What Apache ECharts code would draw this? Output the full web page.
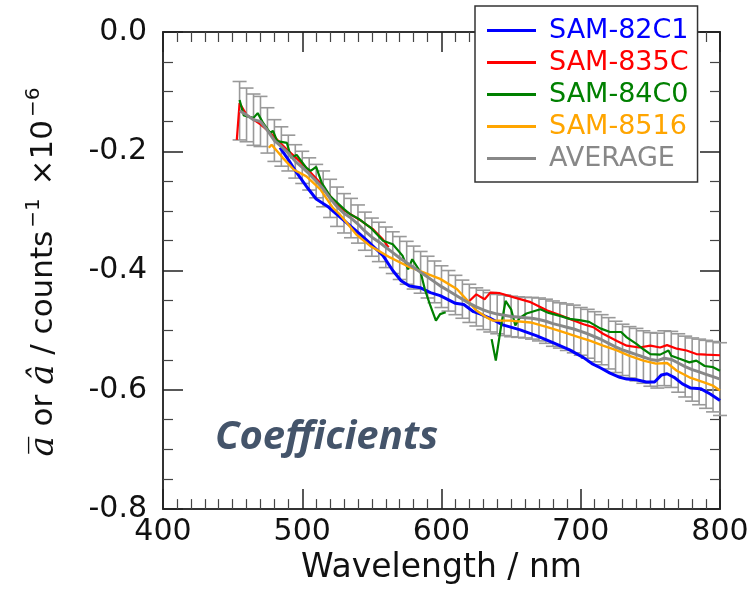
<!DOCTYPE html>
<html>
<head>
<meta charset="UTF-8">
<title>Coefficients</title>
<script src="https://cdn.jsdelivr.net/npm/echarts@6.0.0/dist/echarts.min.js"></script>
</head>
<body style="margin:0">
<div id="main" style="width:754px;height:590px;"></div>
<script type="text/javascript">
// wavelength (nm) / coefficient pairs
var blue = [[484,-0.194],[490,-0.214],[496,-0.236],[504,-0.262],[510,-0.280],[518,-0.292],[525,-0.306],[532,-0.320],[541,-0.338],[549,-0.355],[558,-0.375],[565,-0.400],[571,-0.417],[577,-0.426],[585,-0.429],[592,-0.437],[599,-0.442],[604,-0.448],[610,-0.455],[616,-0.457],[623,-0.469],[628,-0.473],[635,-0.480],[644,-0.491],[656,-0.499],[668,-0.509],[680,-0.521],[692,-0.533],[702,-0.546],[708,-0.556],[714,-0.563],[721,-0.572],[728,-0.579],[733,-0.582],[740,-0.583],[747,-0.587],[753,-0.587],[758,-0.575],[762,-0.573],[767,-0.579],[773,-0.590],[779,-0.597],[786,-0.598],[793,-0.607],[800,-0.618]];
var red = [[453,-0.181],[455,-0.119],[460,-0.139],[470,-0.155],[477,-0.169],[489,-0.197],[496,-0.212],[503,-0.228],[513,-0.253],[519,-0.272],[525,-0.290],[530,-0.299],[537,-0.309],[542,-0.316],[546,-0.323],[551,-0.331],[558,-0.348],[562,-0.361],[590,null],[620,-0.451],[625,-0.440],[631,-0.448],[635,-0.437],[642,-0.438],[652,-0.445],[664,-0.453],[676,-0.467],[683,-0.473],[692,-0.481],[702,-0.490],[709,-0.495],[716,-0.506],[726,-0.518],[733,-0.526],[742,-0.529],[750,-0.526],[757,-0.529],[762,-0.525],[769,-0.531],[776,-0.534],[783,-0.540],[790,-0.541],[800,-0.542]];
var green = [[455,-0.114],[458,-0.140],[465,-0.144],[468,-0.136],[472,-0.153],[477,-0.169],[479,-0.166],[482,-0.183],[489,-0.186],[492,-0.211],[496,-0.206],[503,-0.228],[506,-0.233],[510,-0.226],[514,-0.253],[520,-0.275],[530,-0.297],[534,-0.305],[541,-0.314],[549,-0.328],[558,-0.350],[565,-0.356],[572,-0.375],[576,-0.398],[579,-0.381],[585,-0.403],[588,-0.431],[592,-0.459],[596,-0.484],[599,-0.473],[603,-0.470],[620,null],[636,-0.515],[639,-0.551],[643,-0.490],[646,-0.451],[650,-0.465],[653,-0.492],[656,-0.480],[661,-0.472],[671,-0.465],[677,-0.471],[685,-0.476],[692,-0.481],[699,-0.483],[706,-0.486],[714,-0.497],[721,-0.503],[729,-0.503],[733,-0.512],[740,-0.523],[745,-0.532],[750,-0.540],[757,-0.541],[763,-0.534],[765,-0.543],[771,-0.548],[778,-0.554],[783,-0.551],[789,-0.560],[795,-0.562],[800,-0.568]];
var orange = [[476,-0.194],[478,-0.189],[486,-0.211],[494,-0.231],[503,-0.242],[513,-0.264],[522,-0.295],[527,-0.306],[532,-0.320],[539,-0.340],[549,-0.359],[563,-0.378],[575,-0.392],[587,-0.403],[599,-0.414],[611,-0.431],[619,-0.451],[625,-0.467],[632,-0.478],[637,-0.484],[649,-0.484],[664,-0.487],[676,-0.495],[687,-0.503],[699,-0.512],[707,-0.518],[716,-0.526],[726,-0.534],[735,-0.543],[745,-0.551],[754,-0.556],[762,-0.555],[769,-0.568],[778,-0.579],[788,-0.587],[795,-0.593],[800,-0.601]];

// average with error bar half widths
var avgWl = [455,460,465,470,475,480,485,490,495,500,505,510,515,520,525,530,535,540,545,550,555,560,565,570,575,580,585,590,595,600,605,610,615,620,625,630,635,640,645,650,655,660,665,670,675,680,685,690,695,700,705,710,715,720,725,730,735,740,745,750,755,760,765,770,775,780,785,790,795,800];
var avgVal = [-0.132,-0.139,-0.147,-0.150,-0.165,-0.182,-0.192,-0.203,-0.217,-0.227,-0.238,-0.250,-0.263,-0.279,-0.293,-0.304,-0.312,-0.322,-0.334,-0.344,-0.352,-0.361,-0.370,-0.379,-0.387,-0.395,-0.403,-0.411,-0.419,-0.427,-0.434,-0.441,-0.448,-0.455,-0.461,-0.466,-0.470,-0.473,-0.475,-0.477,-0.478,-0.479,-0.480,-0.482,-0.485,-0.489,-0.492,-0.495,-0.498,-0.502,-0.506,-0.511,-0.516,-0.522,-0.528,-0.533,-0.537,-0.541,-0.545,-0.549,-0.551,-0.547,-0.549,-0.555,-0.561,-0.566,-0.570,-0.574,-0.578,-0.582];
var avgErr = [0.049,0.045,0.043,0.042,0.038,0.035,0.033,0.030,0.028,0.027,0.027,0.028,0.030,0.032,0.033,0.033,0.033,0.032,0.032,0.032,0.033,0.034,0.035,0.036,0.036,0.036,0.035,0.035,0.035,0.035,0.034,0.033,0.032,0.032,0.032,0.033,0.033,0.033,0.034,0.034,0.034,0.034,0.035,0.036,0.037,0.038,0.038,0.039,0.040,0.040,0.041,0.042,0.042,0.043,0.043,0.043,0.043,0.044,0.044,0.045,0.046,0.046,0.047,0.049,0.051,0.053,0.055,0.057,0.059,0.061];

var names = ['SAM-82C1', 'SAM-835C', 'SAM-84C0', 'SAM-8516', 'AVERAGE'];
var colors = ['#0000ff', '#ff0000', '#008000', '#ffa500', '#888888'];
var xTicks = [400, 800, 100];
var yTicks = [-0.8, 0, 0.2];

var myChart = echarts.init(document.getElementById('main'));

var avgLine = avgWl.map(function (w, i) { return [w, avgVal[i]]; });
var errData = avgWl.map(function (w, i) { return [w, avgVal[i], avgErr[i]]; });

function lineSeries(idx, data, width) {
    return {
        name: names[idx],
        type: 'line',
        data: data,
        showSymbol: false,
        symbol: 'none',
        connectNulls: false,
        lineStyle: { color: colors[idx], width: width },
        itemStyle: { color: colors[idx] },
        z: 3 + idx
    };
}

// boxed frame: every axis ticks inward, never sits on zero
function frameAxis(extra, split) {
    return Object.assign({
        axisLine: { onZero: false, lineStyle: { color: '#333', width: 2 } },
        axisTick: { inside: true, length: 20, lineStyle: { color: '#222', width: 1.5 } },
        minorTick: { show: true, splitNumber: split, length: 10, lineStyle: { color: '#444', width: 1.2 } },
        splitLine: { show: false }
    }, extra);
}

var option = {
    animation: false,
    backgroundColor: '#fff',
    grid: { left: 163, right: 34, top: 32, bottom: 79 },
    legend: {
        orient: 'vertical',
        left: 475,
        top: 6,
        padding: [9, 9, 8, 12],
        itemGap: 1,
        itemWidth: 49,
        itemHeight: 3,
        icon: 'rect',
        backgroundColor: '#fff',
        borderColor: '#333',
        borderWidth: 1.5,
        borderRadius: 0,
        selectedMode: false,
        textStyle: { fontFamily: 'DejaVu Sans', fontSize: 27, lineHeight: 31, padding: [0, 0, 0, 8] },
        data: names.map(function (n, i) {
            return { name: n, itemStyle: { color: colors[i] }, textStyle: { color: colors[i] } };
        })
    },
    xAxis: [
        frameAxis({
            type: 'value', min: xTicks[0], max: xTicks[1], interval: xTicks[2],
            axisLabel: { fontFamily: 'DejaVu Sans', fontSize: 30, color: '#111', margin: 8 },
            name: 'Wavelength / nm',
            nameLocation: 'middle',
            nameGap: 38,
            nameTextStyle: { fontFamily: 'DejaVu Sans', fontSize: 33, color: '#111' }
        }, 10),
        frameAxis({
            type: 'value', position: 'top', min: xTicks[0], max: xTicks[1], interval: xTicks[2],
            axisLabel: { show: false }
        }, 10)
    ],
    yAxis: [
        frameAxis({
            type: 'value', min: yTicks[0], max: yTicks[1], interval: yTicks[2],
            axisLabel: {
                fontFamily: 'DejaVu Sans', fontSize: 30, color: '#111', margin: 16,
                formatter: function (v) { return v.toFixed(1); }
            },
            name: '{it|a\u0305}{m| or }{it|\u00e2}{m| / counts}{sup|\u22121}{m| \u00d710}{sup|\u22126}',
            nameLocation: 'middle',
            nameRotate: 90,
            nameGap: 99,
            nameTextStyle: {
                fontFamily: 'DejaVu Sans', fontSize: 31, color: '#111',
                rich: {
                    m: { fontFamily: 'DejaVu Sans', fontSize: 31, color: '#111', lineHeight: 40 },
                    it: { fontFamily: 'DejaVu Serif', fontStyle: 'italic', fontSize: 34, color: '#111', lineHeight: 40 },
                    sup: { fontFamily: 'DejaVu Sans', fontSize: 20, color: '#111', lineHeight: 40, verticalAlign: 'top', padding: [0, 3, 0, 3] }
                }
            }
        }, 4),
        frameAxis({
            type: 'value', position: 'right', min: yTicks[0], max: yTicks[1], interval: yTicks[2],
            axisLabel: { show: false }
        }, 4)
    ],
    graphic: [{
        type: 'text',
        left: 215,
        top: 418,
        style: {
            text: 'Coefficients',
            font: 'italic bold 40px "Open Sans"',
            fill: '#44546a'
        }
    }],
    series: [
        {
            type: 'custom',
            name: 'errorbars',
            data: errData,
            z: 2,
            silent: true,
            renderItem: function (params, api) {
                var x = api.value(0), y = api.value(1), e = api.value(2);
                var top = api.coord([x, y + e]);
                var bot = api.coord([x, y - e]);
                var hw = 7;
                var st = { stroke: '#999', lineWidth: 1.6 };
                return {
                    type: 'group',
                    children: [
                        { type: 'line', shape: { x1: top[0], y1: top[1], x2: bot[0], y2: bot[1] }, style: st },
                        { type: 'line', shape: { x1: top[0] - hw, y1: top[1], x2: top[0] + hw, y2: top[1] }, style: st },
                        { type: 'line', shape: { x1: bot[0] - hw, y1: bot[1], x2: bot[0] + hw, y2: bot[1] }, style: st }
                    ]
                };
            }
        },
        lineSeries(0, blue, 3),
        lineSeries(1, red, 2.2),
        lineSeries(2, green, 2.2),
        lineSeries(3, orange, 2.4),
        lineSeries(4, avgLine, 3)
    ]
};

myChart.setOption(option);
</script>
</body>
</html>
